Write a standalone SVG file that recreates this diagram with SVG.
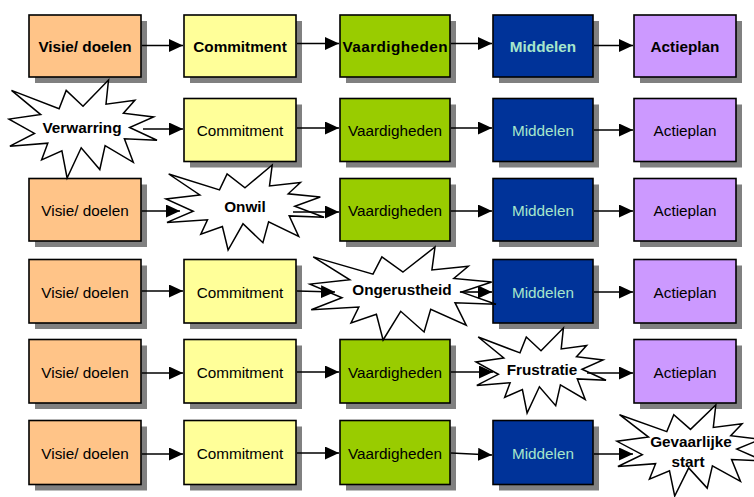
<svg xmlns="http://www.w3.org/2000/svg" width="754" height="497" viewBox="0 0 754 497">
<style>
.sh{fill:#808080}
.bx{stroke:#000;stroke-width:1.6}
.c1{fill:#FFC488}
.c2{fill:#FFFF99}
.c3{fill:#99CC00}
.c4{fill:#003399}
.c5{fill:#CC99FF}
.star{fill:#fff;stroke:#000;stroke-width:1.5;stroke-linejoin:miter}
text{font-family:"Liberation Sans",Arial,sans-serif;font-size:15.3px;text-anchor:middle;fill:#000}
.b{font-weight:bold}
.mid{fill:#A6E6CC}
.arr{stroke:#000;stroke-width:1.6;fill:none;marker-end:url(#ah)}
</style>
<defs>
<marker id="ah" markerUnits="userSpaceOnUse" markerWidth="14" markerHeight="13" viewBox="0 0 14 13" refX="14" refY="6.5" orient="auto"><path d="M0,0 L14,6.5 L0,13 z" fill="#000"/></marker>
</defs>
<rect width="754" height="497" fill="#fff"/>

<!-- Row 1 -->
<g id="r1c1"><rect class="sh" x="35" y="21" width="112" height="62"/><rect class="bx c1" x="29" y="15" width="112" height="62"/><text class="b" x="85" y="52">Visie/ doelen</text></g>
<g id="r1c2"><rect class="sh" x="190" y="21" width="112" height="62"/><rect class="bx c2" x="184" y="15" width="112" height="62"/><text class="b" x="240" y="52">Commitment</text></g>
<g id="r1c3"><rect class="sh" x="346" y="21" width="110" height="62"/><rect class="bx c3" x="340" y="15" width="110" height="62"/><text class="b" x="395" y="52" textLength="105" lengthAdjust="spacing">Vaardigheden</text></g>
<g id="r1c4"><rect class="sh" x="499" y="21" width="100" height="62"/><rect class="bx c4" x="493" y="15" width="100" height="62"/><text class="b mid" x="543" y="52">Middelen</text></g>
<g id="r1c5"><rect class="sh" x="640" y="21" width="102" height="62"/><rect class="bx c5" x="634" y="15" width="102" height="62"/><text class="b" x="685" y="52">Actieplan</text></g>

<!-- Row 2 -->
<g id="r2c2"><rect class="sh" x="190" y="104.5" width="112" height="63"/><rect class="bx c2" x="184" y="98.5" width="112" height="63"/><text x="240" y="135.5">Commitment</text></g>
<g id="r2c3"><rect class="sh" x="346" y="104.5" width="110" height="63"/><rect class="bx c3" x="340" y="98.5" width="110" height="63"/><text x="395" y="135.5">Vaardigheden</text></g>
<g id="r2c4"><rect class="sh" x="499" y="104.5" width="100" height="63"/><rect class="bx c4" x="493" y="98.5" width="100" height="63"/><text class="mid" x="543" y="135.5">Middelen</text></g>
<g id="r2c5"><rect class="sh" x="640" y="104.5" width="102" height="63"/><rect class="bx c5" x="634" y="98.5" width="102" height="63"/><text x="685" y="135.5">Actieplan</text></g>

<!-- Row 3 -->
<g id="r3c1"><rect class="sh" x="35" y="184.5" width="112" height="62.5"/><rect class="bx c1" x="29" y="178.5" width="112" height="62.5"/><text x="85" y="216">Visie/ doelen</text></g>
<g id="r3c3"><rect class="sh" x="346" y="184.5" width="110" height="62.5"/><rect class="bx c3" x="340" y="178.5" width="110" height="62.5"/><text x="395" y="216">Vaardigheden</text></g>
<g id="r3c4"><rect class="sh" x="499" y="184.5" width="100" height="62.5"/><rect class="bx c4" x="493" y="178.5" width="100" height="62.5"/><text class="mid" x="543" y="216">Middelen</text></g>
<g id="r3c5"><rect class="sh" x="640" y="184.5" width="102" height="62.5"/><rect class="bx c5" x="634" y="178.5" width="102" height="62.5"/><text x="685" y="216">Actieplan</text></g>

<!-- Row 4 -->
<g id="r4c1"><rect class="sh" x="35" y="265.5" width="112" height="63.5"/><rect class="bx c1" x="29" y="259.5" width="112" height="63.5"/><text x="85" y="297.5">Visie/ doelen</text></g>
<g id="r4c2"><rect class="sh" x="190" y="265.5" width="112" height="63.5"/><rect class="bx c2" x="184" y="259.5" width="112" height="63.5"/><text x="240" y="297.5">Commitment</text></g>
<g id="r4c4"><rect class="sh" x="499" y="265.5" width="100" height="63.5"/><rect class="bx c4" x="493" y="259.5" width="100" height="63.5"/><text class="mid" x="543" y="297.5">Middelen</text></g>
<g id="r4c5"><rect class="sh" x="640" y="265.5" width="102" height="63.5"/><rect class="bx c5" x="634" y="259.5" width="102" height="63.5"/><text x="685" y="297.5">Actieplan</text></g>

<!-- Row 5 -->
<g id="r5c1"><rect class="sh" x="35" y="345.5" width="112" height="63.5"/><rect class="bx c1" x="29" y="339.5" width="112" height="63.5"/><text x="85" y="378">Visie/ doelen</text></g>
<g id="r5c2"><rect class="sh" x="190" y="345.5" width="112" height="63.5"/><rect class="bx c2" x="184" y="339.5" width="112" height="63.5"/><text x="240" y="378">Commitment</text></g>
<g id="r5c3"><rect class="sh" x="346" y="345.5" width="110" height="63.5"/><rect class="bx c3" x="340" y="339.5" width="110" height="63.5"/><text x="395" y="378">Vaardigheden</text></g>
<g id="r5c5"><rect class="sh" x="640" y="345.5" width="102" height="63.5"/><rect class="bx c5" x="634" y="339.5" width="102" height="63.5"/><text x="685" y="378">Actieplan</text></g>

<!-- Row 6 -->
<g id="r6c1"><rect class="sh" x="35" y="426.5" width="112" height="64"/><rect class="bx c1" x="29" y="420.5" width="112" height="64"/><text x="85" y="459">Visie/ doelen</text></g>
<g id="r6c2"><rect class="sh" x="190" y="426.5" width="112" height="64"/><rect class="bx c2" x="184" y="420.5" width="112" height="64"/><text x="240" y="459">Commitment</text></g>
<g id="r6c3"><rect class="sh" x="346" y="426.5" width="110" height="64"/><rect class="bx c3" x="340" y="420.5" width="110" height="64"/><text x="395" y="459">Vaardigheden</text></g>
<g id="r6c4"><rect class="sh" x="499" y="426.5" width="100" height="64"/><rect class="bx c4" x="493" y="420.5" width="100" height="64"/><text class="mid" x="543" y="459">Middelen</text></g>

<!-- Starbursts -->
<g id="star-verwarring"><polygon class="star" points="83,106.3 108.5,80 106,104.2 134.9,100.2 123.4,113.2 153.6,116.9 129.6,127.5 157,140.3 124.4,138.7 133.3,162.3 105.1,145.6 99.8,169.5 81.2,147.8 67.1,178 61.9,150.9 41.6,159.9 47.8,143.2 9.9,146.2 34.5,133.4 9,119.1 40.7,114.6 11.5,90.4 59.1,108.7 66.2,90.4"/><text class="b" x="82" y="133">Verwarring</text></g>
<g id="star-onwil"><polygon class="star" points="245,187.8 272.2,165 269.5,186 300.4,182.5 288.2,193.8 320.3,197 294.8,206.2 324,217.3 289.2,215.9 298.7,236.4 268.6,221.9 262.9,242.7 243,223.8 228.1,250 222.4,226.5 200.8,234.3 207.5,219.8 167,222.4 193.2,211.3 166,198.9 199.8,195 168.7,174 219.5,189.9 227.1,174"/><text class="b" x="245" y="212">Onwil</text></g>
<g id="star-ongerustheid"><polygon class="star" points="403,272 435,247 431.9,269.9 468.3,266.2 453.8,278.5 491.7,282 461.6,292.1 496,304.2 455,302.7 466.2,325.1 430.7,309.2 424.1,332 400.7,311.3 383.1,340 376.4,314.3 351,322.9 358.8,307 311.2,309.8 342,297.7 310,284.1 349.8,279.8 313.2,256.9 373,274.2 381.9,256.9"/><text class="b" x="402" y="295">Ongerustheid</text></g>
<g id="star-frustratie"><polygon class="star" points="541,350.8 563.4,328 561.2,349 586.6,345.5 576.5,356.8 603,360 582,369.2 606,380.3 577.3,378.9 585.2,399.4 560.4,384.9 555.7,405.7 539.4,386.8 527.1,413 522.4,389.5 504.7,397.3 510.1,382.8 476.8,385.4 498.4,374.3 476,361.9 503.8,358 478.2,337 520,352.9 526.3,337"/><text class="b" x="542" y="374.5">Frustratie</text></g>
<g id="star-gevaarlijke"><polygon class="star" points="690.5,429.4 715.8,405 713.3,427.4 742.1,423.8 730.7,435.8 760.6,439.3 736.8,449.1 764,461 731.6,459.5 740.5,481.4 712.4,465.9 707.2,488.1 688.7,467.9 674.7,496 669.5,470.8 649.4,479.2 655.6,463.7 617.9,466.5 642.3,454.6 617,441.3 648.5,437.1 619.5,414.7 666.8,431.6 673.8,414.7"/><text class="b" x="691" y="446.5">Gevaarlijke</text><text class="b" x="688" y="466.5">start</text></g>

<!-- Connectors -->
<g id="connectors">
<line class="arr" x1="142" y1="45.5" x2="183" y2="45.5"/>
<line class="arr" x1="297" y1="43.5" x2="339" y2="43.5"/>
<line class="arr" x1="451" y1="43.5" x2="492" y2="43.5"/>
<line class="arr" x1="594" y1="45.5" x2="633" y2="45.5"/>

<line class="arr" x1="143" y1="129" x2="183" y2="129"/>
<line class="arr" x1="297" y1="128" x2="339" y2="128"/>
<line class="arr" x1="451" y1="128" x2="492" y2="128"/>
<line class="arr" x1="594" y1="130" x2="633" y2="130"/>

<line class="arr" x1="142" y1="211" x2="180" y2="211"/>
<line class="arr" x1="293" y1="212" x2="339" y2="212"/>
<line class="arr" x1="451" y1="211" x2="492" y2="211"/>
<line class="arr" x1="594" y1="211" x2="633" y2="211"/>

<line class="arr" x1="142" y1="291" x2="183" y2="291"/>
<line class="arr" x1="297" y1="291" x2="335" y2="292"/>
<line class="arr" x1="460" y1="292" x2="492" y2="292"/>
<line class="arr" x1="594" y1="292" x2="633" y2="292"/>

<line class="arr" x1="142" y1="373" x2="183" y2="373"/>
<line class="arr" x1="297" y1="372" x2="339" y2="372"/>
<line class="arr" x1="451" y1="372" x2="493" y2="372"/>
<line class="arr" x1="587" y1="373" x2="633" y2="373"/>

<line class="arr" x1="142" y1="454" x2="183" y2="454"/>
<line class="arr" x1="297" y1="453" x2="339" y2="453"/>
<line class="arr" x1="451" y1="453" x2="492" y2="455"/>
<line class="arr" x1="594" y1="454" x2="633" y2="454"/>
</g>
</svg>
